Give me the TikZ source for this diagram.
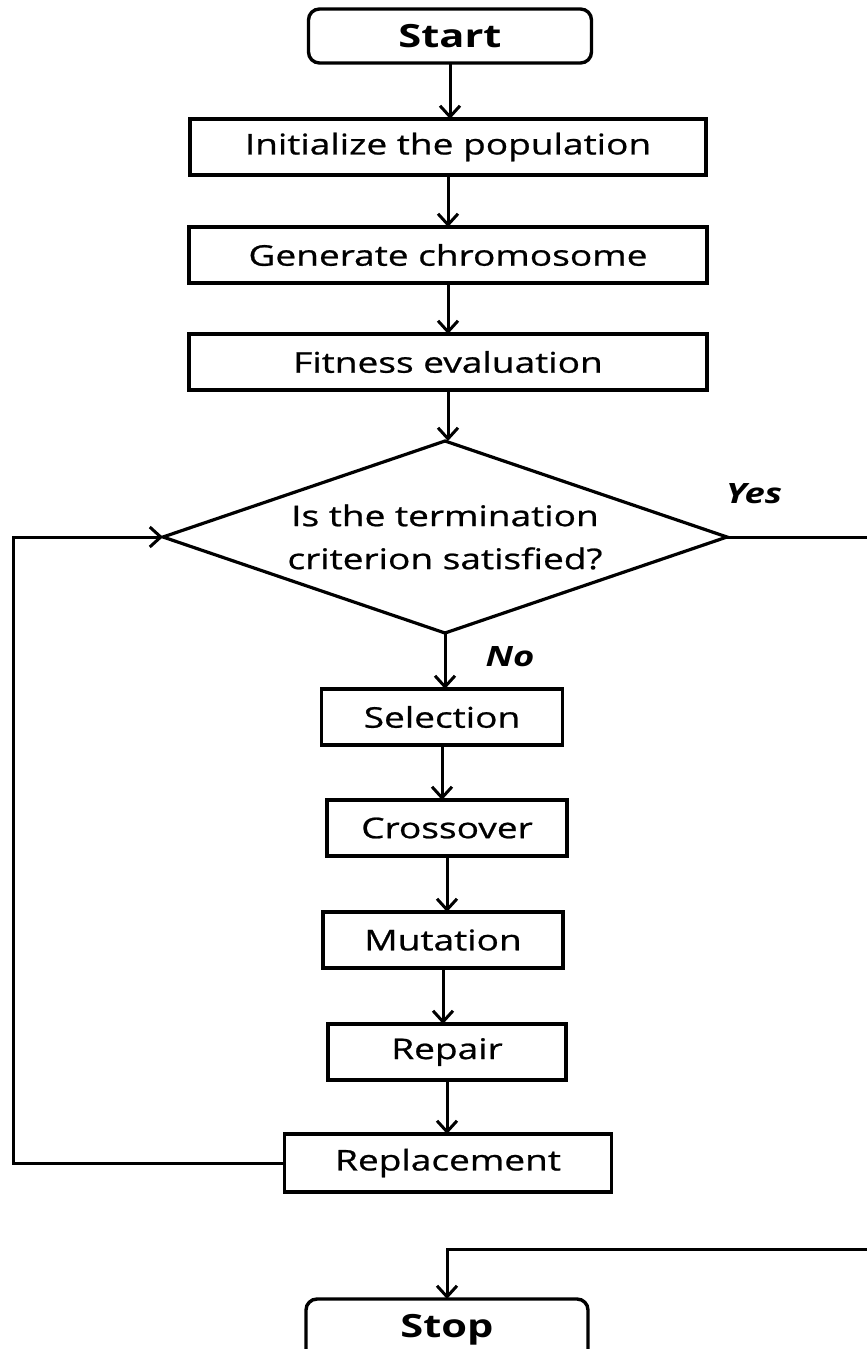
\documentclass[tikz,border=0pt]{standalone}
\usepackage{fontspec}
\setmainfont{Open Sans}[FakeStretch=1.3,UprightFeatures={FakeBold=0.8}]
\usetikzlibrary{arrows.meta,shapes.geometric}
\begin{document}
\begin{tikzpicture}[x=1pt,y=-1pt,
  every node/.style={inner sep=0pt,outer sep=0pt},
  procbox/.style={draw,line width=3.4pt,minimum height=56pt,
    font=\fontsize{28.5}{33}\selectfont},
  termbox/.style={draw,line width=3.4pt,rounded corners=11pt,minimum height=54pt,
    font=\fontsize{32}{36}\selectfont\bfseries},
  decision/.style={draw,diamond,aspect=2.94,line width=3.2pt,minimum width=564pt,minimum height=192pt,
    align=center,font=\fontsize{28.5}{43}\selectfont},
  branchlabel/.style={font=\fontsize{28}{32}\selectfont\bfseries\itshape},
  flow/.style={line width=3pt,-{Straight Barb[length=11pt,width=20pt]}}]
\useasboundingbox (0,0) rectangle (867,1349);
\clip (0,0) rectangle (867,1349);

% terminals
\node[termbox,minimum width=283pt] (start) at (450,36) {Start};
\node[termbox,minimum width=282pt,minimum height=62pt] (stop) at (447,1330) {Stop};

% initialisation
\node[procbox,minimum width=516pt] (init) at (448,147) {Initialize the population};
\node[procbox,minimum width=518pt] (gen)  at (448,255) {Generate chromosome};
\node[procbox,minimum width=518pt] (fit)  at (448,362) {Fitness evaluation};

% termination test
\node[decision] (dia) at (445,537) {Is the termination\\criterion satisfied?};

% GA operators
\node[procbox,minimum width=241pt] (sel)   at (442,717)  {Selection};
\node[procbox,minimum width=240pt] (cross) at (447,828)  {Crossover};
\node[procbox,minimum width=240pt] (mut)   at (443,940)  {Mutation};
\node[procbox,minimum width=238pt] (rep)   at (447,1052) {Repair};
\node[procbox,minimum width=327pt,minimum height=58pt] (repl) at (448,1163) {Replacement};

% branch labels
\node[branchlabel] (yes) at (754,494) {Yes};
\node[branchlabel] (no)  at (510,657) {No};

% main column connectors
\draw[flow] (start.south) -- (start.south |- init.north);
\draw[flow] (init.south) -- (init.south |- gen.north);
\draw[flow] (gen.south) -- (gen.south |- fit.north);
\draw[flow] (fit.south) -- (fit.south |- dia.north);
\draw[flow] (dia.south) -- (dia.south |- sel.north);
\draw[flow] (sel.south) -- (sel.south |- cross.north);
\draw[flow] (cross.south) -- (cross.south |- mut.north);
\draw[flow] (mut.south) -- (mut.south |- rep.north);
\draw[flow] (rep.south) -- (rep.south |- repl.north);

% loop back to the termination test
\coordinate (loopturn) at (13,1163);
\draw[flow] (repl.west) -- (loopturn) |- (dia.west);

% exit when the criterion holds
\coordinate (yesturn) at (890,1249);
\draw[flow] (dia.east) -| (yesturn) -| (stop.north);
\end{tikzpicture}
\end{document}
